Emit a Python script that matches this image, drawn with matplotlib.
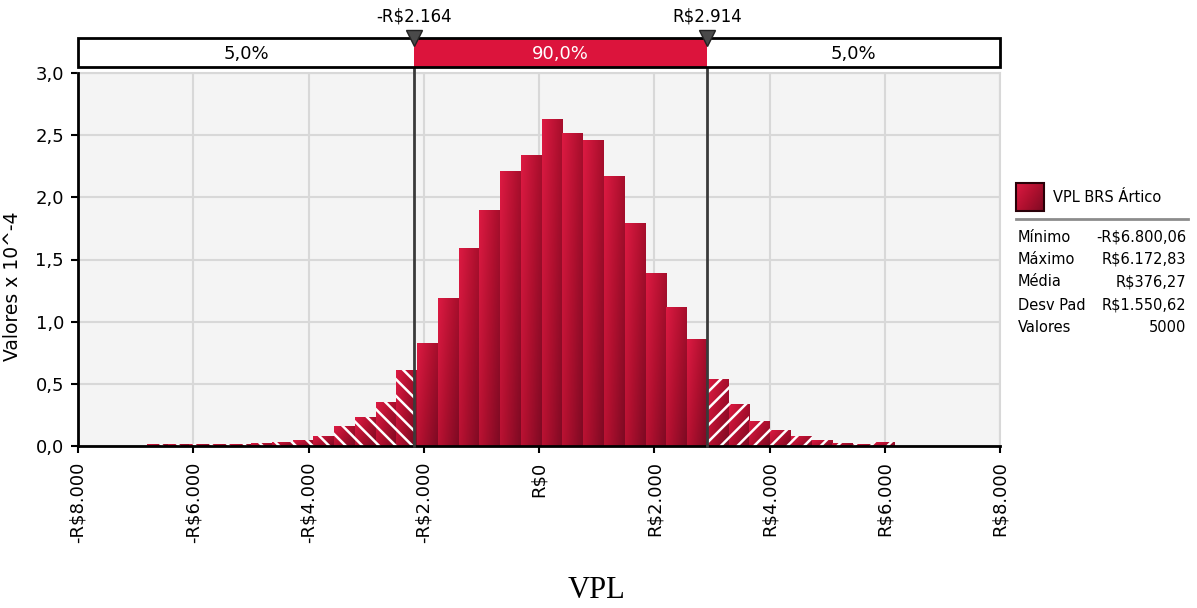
import numpy as np
import matplotlib
matplotlib.use("Agg")
import matplotlib.pyplot as plt
from matplotlib.colors import LinearSegmentedColormap
from matplotlib.patches import Rectangle
from matplotlib.ticker import FixedLocator, FuncFormatter

# ---------------- data ----------------
data_min = -6800.06
data_max = 6172.83
n_bins = 36
# density values (x 10^-4) per bin
bin_heights = [0.018, 0.018, 0.018, 0.018, 0.018, 0.022, 0.030, 0.045, 0.080,
               0.160, 0.230, 0.350, 0.610, 0.830, 1.190, 1.590, 1.900, 2.210,
               2.340, 2.630, 2.520, 2.460, 2.170, 1.790, 1.390, 1.120, 0.860,
               0.540, 0.340, 0.200, 0.130, 0.080, 0.045, 0.027, 0.016, 0.030]
cut_low = -2164
cut_high = 2914
cut_labels = ["-R$2.164", "R$2.914"]
region_labels = ["5,0%", "90,0%", "5,0%"]
x_ticks = [-8000, -6000, -4000, -2000, 0, 2000, 4000, 6000, 8000]
x_tick_labels = ["-R$8.000", "-R$6.000", "-R$4.000", "-R$2.000", "R$0",
                 "R$2.000", "R$4.000", "R$6.000", "R$8.000"]
y_ticks = [0.0, 0.5, 1.0, 1.5, 2.0, 2.5, 3.0]
series_name = "VPL BRS Ártico"
stat_names = ["Mínimo", "Máximo", "Média", "Desv Pad", "Valores"]
stat_values = ["-R$6.800,06", "R$6.172,83", "R$376,27", "R$1.550,62", "5000"]

plt.rcParams["hatch.linewidth"] = 1.8

# ---------------- figure ----------------
W, H = 1197, 608
fig = plt.figure(figsize=(W / 100, H / 100), dpi=100)
fig.patch.set_facecolor("white")

def fx(px):
    return px / W

def fy(py):
    return 1 - py / H

ax_l, ax_r, ax_t, ax_b = 78, 1000, 73, 446
ax = fig.add_axes([fx(ax_l), fy(ax_b), fx(ax_r - ax_l), (ax_b - ax_t) / H])
ax.set_facecolor("#F4F4F4")

cmap = LinearSegmentedColormap.from_list("crim", ["#DC1A42", "#B0102F", "#7E0A23"])

edges = np.linspace(data_min, data_max, n_bins + 1)
# split bins at cutoffs
seg_left, seg_width, seg_h, seg_tail = [], [], [], []
for i in range(n_bins):
    a, b = edges[i], edges[i + 1]
    pts = [a] + [c for c in (cut_low, cut_high) if a < c < b] + [b]
    for s, e in zip(pts[:-1], pts[1:]):
        mid = 0.5 * (s + e)
        seg_left.append(s)
        seg_width.append(e - s)
        seg_h.append(bin_heights[i])
        seg_tail.append(mid < cut_low or mid > cut_high)

bars = ax.bar(seg_left, seg_h, width=seg_width, align="edge",
              facecolor="none", edgecolor="none", zorder=3)

gx, gy = np.meshgrid(np.linspace(0, 1, 24), np.linspace(0, 1, 60))
grad = 0.6 * gx + 0.4 * (1 - gy)
for rect, tail, s in zip(bars.patches, seg_tail, seg_left):
    x0 = rect.get_x(); w = rect.get_width(); h = rect.get_height()
    im = ax.imshow(grad, extent=[x0, x0 + w, 0, h], origin="lower", cmap=cmap,
                   vmin=0, vmax=1, aspect="auto", interpolation="bilinear", zorder=3)
    im.set_clip_path(rect)
    if tail:
        hatch = "\\\\" if s < cut_low else "//"
        ax.add_patch(Rectangle((x0, 0), w, h, facecolor="none", edgecolor="white",
                               linewidth=0, hatch=hatch, zorder=4))

ax.set_xlim(-8000, 8000)
ax.set_ylim(0, 3.0)
ax.xaxis.set_major_locator(FixedLocator(x_ticks))
ax.set_xticklabels(x_tick_labels, rotation=90, fontsize=13)
ax.yaxis.set_major_locator(FixedLocator(y_ticks))
ax.yaxis.set_major_formatter(FuncFormatter(lambda v, p: f"{v:.1f}".replace(".", ",")))
ax.tick_params(axis="y", labelsize=13, length=5, width=1.5, pad=5, color="black")
ax.tick_params(axis="x", length=5, width=1.5, pad=6, color="black")
ax.grid(True, color="#D8D8D8", linewidth=1.5, zorder=0)
ax.set_axisbelow(True)
for sp in ["top", "right"]:
    ax.spines[sp].set_color("#D8D8D8")
    ax.spines[sp].set_linewidth(1.5)
for sp in ["left", "bottom"]:
    ax.spines[sp].set_color("black")
    ax.spines[sp].set_linewidth(2)
    ax.spines[sp].set_zorder(6)

ax.set_ylabel("Valores x 10^-4", fontsize=13.5)
ax.yaxis.set_label_coords((22 - ax_l) / (ax_r - ax_l), (ax_b - 286) / (ax_b - ax_t))
ax.set_xlabel("VPL", fontsize=22, family="Liberation Serif")
ax.xaxis.set_label_coords((597 - ax_l) / (ax_r - ax_l), (ax_b - 590) / (ax_b - ax_t))
ax.xaxis.label.set_va("center")

# cutoff lines extending into the top bar
y_top_ext = (ax_b - 38) / (ax_b - ax_t) * 3.0
for c in (cut_low, cut_high):
    ax.plot([c, c], [0, y_top_ext], color="#3A3A3A", linewidth=2, zorder=7, clip_on=False)

# ---------------- top band ----------------
tb_t, tb_b = 38, 67
axt = fig.add_axes([fx(ax_l), fy(tb_b), fx(ax_r - ax_l), (tb_b - tb_t) / H])
axt.set_xlim(-8000, 8000)
axt.set_ylim(0, 1)
axt.axis("off")
bounds = [-8000, cut_low, cut_high, 8000]
band_colors = ["white", "#DC143C", "white"]
text_colors = ["black", "white", "black"]
axt.barh([0.5] * 3, np.diff(bounds), left=bounds[:-1], height=1.0,
         color=band_colors, edgecolor="none", zorder=1)
axt.add_patch(Rectangle((-8000, 0), 16000, 1, facecolor="none", edgecolor="black",
                        linewidth=2, zorder=3, clip_on=False))
for i in range(3):
    axt.text(0.5 * (bounds[i] + bounds[i + 1]), 0.45, region_labels[i], ha="center",
             va="center", fontsize=13, color=text_colors[i], zorder=4)
for c, lab in zip((cut_low, cut_high), cut_labels):
    axt.plot([c], [1.0], marker="v", markersize=11, color="#4A4A4A",
             markeredgecolor="#222222", clip_on=False, zorder=5)
    axt.annotate(lab, xy=(c, 1.0), xycoords="data", xytext=(0, 15.5),
                 textcoords="offset points", ha="center", va="center", fontsize=12)

# ---------------- legend / stats ----------------
axl = fig.add_axes([0, 0, 1, 1], facecolor="none")
axl.set_xlim(0, W)
axl.set_ylim(H, 0)
axl.axis("off")
sw = Rectangle((1016, 183), 28, 28, facecolor="none", edgecolor="#2A0008", linewidth=1.5, zorder=3)
axl.add_patch(sw)
imsw = axl.imshow(0.6 * gx + 0.4 * gy, extent=[1016, 1044, 211, 183], cmap=cmap,
                  vmin=0, vmax=1, aspect="auto", interpolation="bilinear", zorder=2)
imsw.set_clip_path(Rectangle((1016, 183), 28, 28, transform=axl.transData))
axl.set_xlim(0, W)
axl.set_ylim(H, 0)
axl.text(1053, 197, series_name, ha="left", va="center", fontsize=10.5)
axl.plot([1016, 1188], [219, 219], color="#8C8C8C", linewidth=2)
row_y = [237, 259, 282, 305, 327]
for yy, nm, vl in zip(row_y, stat_names, stat_values):
    axl.text(1018, yy, nm, ha="left", va="center", fontsize=10.5)
    axl.text(1186, yy, vl, ha="right", va="center", fontsize=10.5)

fig.savefig("out.png", dpi=100, facecolor="white")
